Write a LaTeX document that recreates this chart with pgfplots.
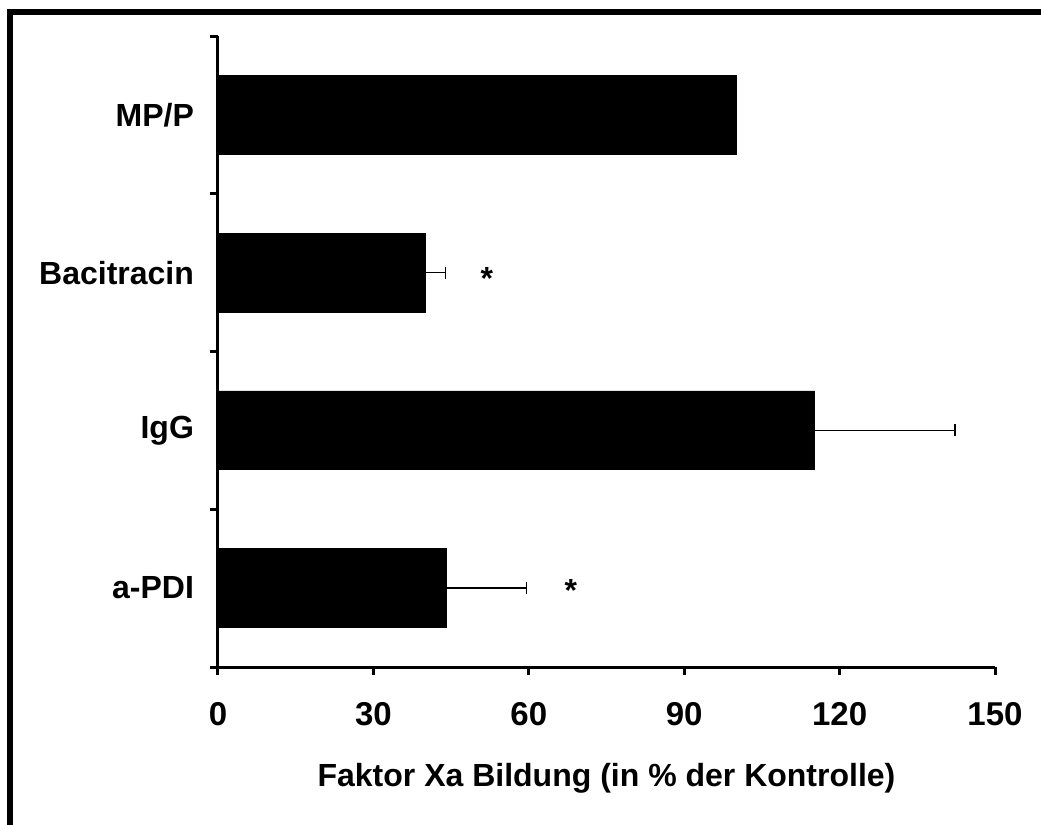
\documentclass[border=0pt]{standalone}
\usepackage{fontspec}
\setmainfont{Liberation Sans}
\usepackage{pgfplots}
\pgfplotsset{compat=1.18}

\begin{document}
\begin{tikzpicture}
  % page area, y grows downwards
  \useasboundingbox (0pt,0pt) rectangle (520.5pt,-412.5pt);
  % frame (top and left edges)
  \draw[line width=3pt] (5pt,-420pt) -- (5pt,-6pt) -- (530pt,-6pt);

  \begin{axis}[
    at={(109pt,-333.5pt)}, anchor=south west,
    scale only axis,
    width=388.5pt, height=315.5pt,
    xbar, bar width=0.5,
    xmin=0, xmax=150,
    ymin=-0.5, ymax=3.5,
    axis x line*=bottom, axis y line*=left,
    axis line style={-, line width=1.5pt},
    tick align=outside,
    major tick length=4pt,
    tick style={line width=1.5pt, black},
    xtick={0,30,60,90,120,150},
    ytick={-0.5,0.5,1.5,2.5,3.5},
    yticklabels={},
    extra y ticks={0,1,2,3},
    extra y tick labels={a-PDI,IgG,Bacitracin,MP/P},
    extra y tick style={major tick length=0pt},
    yticklabel style={font=\fontsize{16}{19}\selectfont\bfseries, anchor=east, xshift=-8.5pt},
    xticklabel style={font=\fontsize{16.5}{19}\selectfont\bfseries, anchor=base, yshift=-25pt},
    /pgf/number format/assume math mode=true,
    xlabel={Faktor Xa Bildung (in \% der Kontrolle)},
    xlabel style={font=\fontsize{16}{19}\selectfont\bfseries, at={(axis description cs:0.5,0)}, anchor=base, yshift=-59.5pt},
    clip=false,
  ]
    % control, no error bar
    \addplot[fill=black, draw=black, bar shift=0pt] coordinates {(100,3)};
    % treatments, mean with SD to the right
    \addplot[fill=black, draw=black, bar shift=0pt,
      error bars/.cd, x dir=plus, x explicit,
      error bar style={line width=0.65pt, black},
      error mark options={rotate=90, line width=0.65pt, mark size=3pt, black}]
      coordinates {
        (40,2) +- (3.9,0)
        (115.2,1) +- (27.1,0)
        (44,0) +- (15.5,0)
      };
    \node[font=\fontsize{16}{19}\selectfont\bfseries, yshift=-3pt] at (axis cs:51.9,2) {*};
    \node[font=\fontsize{16}{19}\selectfont\bfseries, yshift=-1pt] at (axis cs:68.1,0) {*};
  \end{axis}
\end{tikzpicture}
\end{document}
